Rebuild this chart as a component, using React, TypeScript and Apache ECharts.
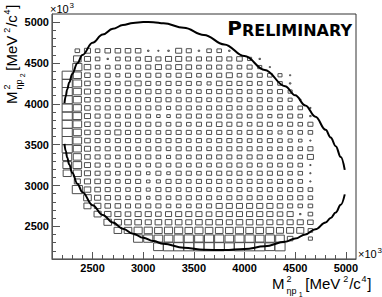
import { useEffect, useRef } from "react";
import * as echarts from "echarts";

// axis ticks (units: 10^3 MeV^2/c^4)
const axisMin = 2100;
const axisMax = 5100;
const majorTicks = [2500, 3000, 3500, 4000, 4500, 5000];
const minorStep = 100;

// histogram bins: 100 x 100, one row per y-bin centre
const binWidth = 100;
const rowY = [4650, 4550, 4450, 4350, 4250, 4150, 4050, 3950, 3850, 3750, 3650, 3550, 3450, 3350, 3250, 3150, 3050, 2950, 2850, 2750, 2650, 2550, 2450, 2350, 2250];
const rowStart = [2350, 2350, 2350, 2250, 2250, 2250, 2250, 2250, 2250, 2250, 2250, 2250, 2250, 2250, 2250, 2250, 2350, 2350, 2450, 2450, 2550, 2650, 2750, 2950, 3150];
// relative bin content (0-100)
const rowCounts = [
  [45, 60, 45, 55, 55, 55, 55, 15, 12, 15, 60, 50, 15, 45, 45, 15],
  [75, 60, 45, 15, 45, 50, 45, 60, 50, 60, 60, 50, 50, 50, 55, 50, 55, 40, 15],
  [90, 65, 45, 45, 50, 45, 50, 50, 60, 50, 60, 55, 45, 50, 50, 50, 45, 50, 40, 12],
  [100, 80, 55, 45, 50, 40, 50, 45, 50, 50, 45, 50, 55, 45, 50, 50, 60, 45, 50, 50, 45, 40, 12],
  [100, 85, 55, 45, 50, 45, 55, 60, 50, 45, 50, 50, 50, 45, 40, 55, 50, 50, 50, 45, 50, 45, 15],
  [100, 80, 60, 50, 50, 50, 45, 50, 55, 50, 50, 40, 50, 45, 50, 50, 55, 50, 45, 50, 45, 50, 40],
  [100, 80, 55, 50, 45, 50, 50, 50, 45, 55, 50, 50, 50, 55, 45, 50, 50, 50, 45, 50, 45, 45, 40, 15],
  [100, 80, 55, 50, 50, 50, 45, 50, 50, 50, 40, 50, 50, 45, 50, 50, 55, 45, 50, 50, 45, 50, 45, 45, 12],
  [100, 85, 60, 50, 50, 45, 50, 50, 45, 35, 35, 45, 50, 50, 45, 50, 50, 50, 45, 50, 40, 45, 50, 45, 15],
  [100, 85, 55, 50, 50, 50, 50, 50, 50, 50, 45, 50, 45, 50, 50, 55, 50, 50, 45, 50, 50, 45, 50, 45, 50],
  [100, 80, 55, 50, 50, 60, 50, 50, 50, 45, 50, 50, 50, 45, 50, 50, 50, 45, 50, 50, 45, 40, 45, 45, 45],
  [100, 85, 55, 50, 45, 50, 50, 50, 45, 50, 50, 50, 45, 50, 45, 50, 50, 50, 45, 45, 50, 45, 40, 35, 12],
  [100, 80, 60, 50, 50, 50, 50, 45, 50, 50, 45, 50, 50, 50, 45, 50, 50, 50, 50, 50, 45, 45, 50, 45, 50],
  [90, 80, 55, 50, 50, 45, 50, 50, 50, 45, 40, 50, 45, 50, 50, 50, 50, 45, 50, 50, 45, 50, 45, 45, 60],
  [85, 85, 60, 50, 45, 50, 50, 45, 45, 50, 45, 50, 45, 50, 45, 50, 50, 50, 50, 45, 50, 45, 50, 45, 12],
  [80, 80, 60, 50, 50, 45, 50, 50, 35, 50, 35, 50, 50, 45, 50, 50, 50, 50, 45, 50, 50, 50, 45, 45, 12],
  [60, 60, 55, 50, 45, 50, 50, 35, 40, 50, 50, 45, 50, 50, 50, 45, 50, 50, 50, 45, 50, 45, 45, 12],
  [100, 65, 55, 50, 50, 45, 50, 40, 50, 50, 45, 50, 50, 45, 50, 50, 50, 45, 50, 50, 45, 50, 50, 45],
  [75, 60, 55, 50, 45, 50, 35, 50, 45, 50, 50, 50, 50, 45, 50, 50, 50, 50, 45, 50, 50, 50, 45],
  [70, 65, 55, 55, 50, 50, 50, 50, 45, 45, 45, 50, 50, 60, 60, 60, 60, 60, 60, 55, 50, 45, 45],
  [70, 65, 60, 55, 60, 60, 55, 60, 60, 60, 60, 55, 60, 60, 60, 60, 60, 60, 55, 60, 15, 45],
  [75, 70, 65, 65, 60, 65, 65, 65, 60, 65, 65, 65, 60, 65, 65, 65, 60, 60, 60, 60, 55],
  [75, 75, 80, 80, 75, 80, 80, 75, 80, 75, 75, 75, 80, 75, 75, 75, 70, 70, 70, 45],
  [90, 90, 85, 85, 90, 90, 85, 90, 90, 85, 90, 90, 85, 90, 85, 55, 0, 40],
  [95, 100, 100, 100, 100, 100, 100, 95, 100, 100, 100, 95, 100],
];

// kinematic boundary: [M2(eta p1), M2(eta p2)]
const upperBranch = [
  [2223.1, 4007.9], [2235, 4093.5], [2250, 4175.7], [2270, 4262.5], [2300, 4365.8], [2350, 4497.4],
  [2400, 4598.7], [2500, 4746.9], [2600, 4848.3], [2700, 4917.9], [2800, 4963.8], [2900, 4990.7],
  [3000, 5002.1], [3100, 5000.5], [3200, 4987.4], [3400, 4932.3], [3600, 4844.3], [3800, 4727.7],
  [4000, 4584.8], [4200, 4415.4], [4400, 4216.7], [4500, 4104.1], [4600, 3980.3], [4700, 3841.8],
  [4800, 3681.6], [4850, 3588.8], [4900, 3481.8], [4950, 3348.2], [4989, 3191.2],
];
const lowerBranch = [
  [2223.1, 3509.5], [2235, 3424.6], [2250, 3343.3], [2270, 3257.4], [2300, 3154.8], [2350, 3022.6],
  [2400, 2918.7], [2500, 2759.4], [2600, 2640.1], [2700, 2546.5], [2800, 2471.4], [2900, 2410.1],
  [3000, 2360.0], [3100, 2319.1], [3200, 2285.9], [3400, 2239.2], [3600, 2214.4], [3800, 2209.0],
  [4000, 2222.2], [4200, 2255.1], [4400, 2311.6], [4500, 2351.2], [4600, 2400.7], [4700, 2463.9],
  [4800, 2547.8], [4850, 2602.0], [4900, 2670.3], [4950, 2764.9], [4989, 2891.3],
];

const FONT = "Liberation Sans";

function titleElements(subIndex: string, F: number) {
  const s = 9;
  const ss = 7;
  const u = F / 14;
  const mk = (text: string, x: number, y: number, size: number) => ({
    type: "text",
    x: x * u,
    y: y * u,
    style: { text, fontSize: size, fontFamily: FONT, fill: "#000", align: "left", verticalAlign: "bottom" },
  });
  return [
    mk("M", 0, 0, F),
    mk("2", 13.5, -6.8, s),
    mk("\u03b7p", 13.5, 4.6, s),
    mk(subIndex, 25, 6.6, ss),
    mk("[MeV", 31, 0, F),
    mk("2", 66.5, -6.8, s),
    mk("/c", 72, 0, F),
    mk("4", 83.5, -6.8, s),
    mk("]", 89, 0, F),
  ];
}

function times10(x: number, y: number) {
  return {
    type: "group",
    x,
    y,
    children: [
      { type: "text", x: 0, y: 0, style: { text: "\u00d710", fontSize: 11, fontFamily: FONT, fill: "#000", verticalAlign: "bottom" } },
      { type: "text", x: 19.5, y: -4.5, style: { text: "3", fontSize: 8, fontFamily: FONT, fill: "#000", verticalAlign: "bottom" } },
    ],
  };
}

export default function App() {
  const ref = useRef<HTMLDivElement>(null);
  useEffect(() => {
    if (!ref.current) return;
    const chart = echarts.init(ref.current, null, { renderer: "svg" });
    const boxes: number[][] = [];
    rowY.forEach((y, i) => {
      rowCounts[i].forEach((c, j) => {
        if (c > 0) boxes.push([rowStart[i] + j * binWidth, y, c]);
      });
    });
    const minorTicks: number[] = [];
    for (let v = axisMin + minorStep; v < axisMax; v += minorStep) minorTicks.push(v);

    const labelStyle = {
      fontFamily: FONT,
      fontWeight: "bold" as const,
      fontSize: 11,
      color: "#000",
      formatter: (v: number) => String(v),
    };
    const mainAxis = (pos: "bottom" | "left") => ({
      type: "value",
      min: axisMin,
      max: axisMax,
      position: pos,
      splitLine: { show: false },
      axisLine: { show: true, lineStyle: { color: "#555", width: 1 } },
      axisTick: { show: true, inside: true, length: pos === "left" ? 8 : 7, customValues: majorTicks, lineStyle: { color: "#555" } },
      axisLabel: { show: true, customValues: majorTicks, margin: 3, ...labelStyle },
    });
    const minorAxis = (pos: "bottom" | "left") => ({
      type: "value",
      min: axisMin,
      max: axisMax,
      position: pos,
      splitLine: { show: false },
      axisLine: { show: false },
      axisLabel: { show: false },
      axisTick: { show: true, inside: true, length: 4, customValues: minorTicks, lineStyle: { color: "#555" } },
    });

    chart.setOption({
      animation: false,
      backgroundColor: "#fff",
      grid: {
        left: 52,
        right: 26,
        top: 14,
        bottom: 38,
        show: true,
        borderColor: "#333",
        borderWidth: 1,
        containLabel: false,
        outerBoundsMode: "none",
      },
      xAxis: [mainAxis("bottom"), minorAxis("bottom")],
      yAxis: [mainAxis("left"), minorAxis("left")],
      series: [
        {
          type: "custom",
          xAxisIndex: 0,
          yAxisIndex: 0,
          data: boxes,
          renderItem: (_p: any, api: any) => {
            const c = api.coord([api.value(0), api.value(1)]);
            const sz = api.size([binWidth, binWidth]);
            const f = api.value(2) / 100;
            const w = sz[0] * f;
            const h = sz[1] * f;
            return {
              type: "rect",
              shape: { x: c[0] - w / 2, y: c[1] - h / 2, width: w, height: h },
              style: { fill: "none", stroke: "#4d4d4d", lineWidth: 1 },
            };
          },
        },
        {
          type: "line",
          data: upperBranch,
          showSymbol: false,
          smooth: 0.4,
          smoothMonotone: "x",
          lineStyle: { color: "#000", width: 2 },
          z: 5,
        },
        {
          type: "line",
          data: lowerBranch,
          showSymbol: false,
          smooth: 0.4,
          smoothMonotone: "x",
          lineStyle: { color: "#000", width: 2 },
          z: 5,
        },
      ],
      graphic: [
        { type: "group", x: 272, y: 291, children: titleElements("1", 15) },
        { type: "group", x: 19, y: 104, rotation: Math.PI / 2, children: titleElements("2", 15) },
        times10(50, 14),
        times10(358, 259),
        {
          type: "text",
          right: 30,
          top: 18,
          style: {
            text: "{p|P}{r|RELIMINARY}",
            fill: "#000",
            rich: {
              p: { fontSize: 20, fontWeight: "bold", fontFamily: "DejaVu Sans", verticalAlign: "bottom" },
              r: { fontSize: 16, fontWeight: "bold", fontFamily: "DejaVu Sans", verticalAlign: "bottom" },
            },
          },
        },
      ],
    });
    return () => chart.dispose();
  }, []);
  return <div ref={ref} style={{ position: "absolute", left: 0, top: 0, width: 382, height: 297 }} />;
}
